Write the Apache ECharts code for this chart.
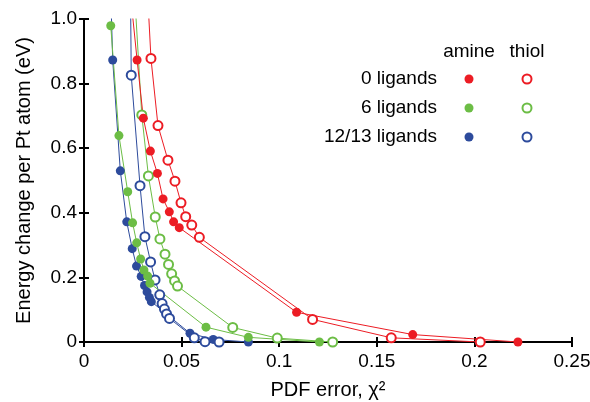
<!DOCTYPE html>
<html>
<head>
<meta charset="utf-8">
<script src="https://cdn.jsdelivr.net/npm/echarts@6/dist/echarts.min.js"></script>
<style>
html,body{margin:0;padding:0;background:#fff;}
#chart{width:590px;height:402px;}
</style>
</head>
<body>
<div id="chart"></div>
<script>
// ---- data (x = PDF error chi^2, y = energy change per Pt atom, eV) ----
var amine0X = [0.0234, 0.0272, 0.0304, 0.0340, 0.0376, 0.0405, 0.0437, 0.0459, 0.0488, 0.1089, 0.1684, 0.2223];
var amine0Y = [1.10, 0.873, 0.693, 0.591, 0.522, 0.443, 0.403, 0.372, 0.354, 0.092, 0.023, 0.0];
var thiol0X = [0.0324, 0.0343, 0.0379, 0.0430, 0.0466, 0.0497, 0.0521, 0.0552, 0.0591, 0.1171, 0.1574, 0.2030];
var thiol0Y = [1.10, 0.878, 0.670, 0.563, 0.498, 0.431, 0.388, 0.362, 0.324, 0.070, 0.013, 0.0];
var amine6X = [0.0137, 0.0179, 0.0224, 0.0249, 0.0270, 0.0290, 0.0307, 0.0326, 0.0338, 0.0625, 0.0842, 0.1206];
var amine6Y = [0.979, 0.639, 0.465, 0.369, 0.307, 0.257, 0.223, 0.204, 0.182, 0.046, 0.0145, 0.0];
var thiol6X = [0.0257, 0.0296, 0.0330, 0.0365, 0.0389, 0.0415, 0.0433, 0.0449, 0.0464, 0.0479, 0.0762, 0.0990, 0.1274];
var thiol6Y = [1.10, 0.703, 0.514, 0.387, 0.319, 0.272, 0.240, 0.211, 0.189, 0.173, 0.045, 0.012, 0.0];
var amine12X = [0.0136, 0.0147, 0.0186, 0.0219, 0.0247, 0.0269, 0.0293, 0.0310, 0.0323, 0.0335, 0.0345, 0.0543, 0.0662, 0.0842];
var amine12Y = [1.10, 0.873, 0.530, 0.372, 0.289, 0.235, 0.203, 0.175, 0.155, 0.138, 0.125, 0.027, 0.008, 0.0];
var thiol12X = [0.0238, 0.0242, 0.0287, 0.0312, 0.0341, 0.0364, 0.0388, 0.0400, 0.0412, 0.0423, 0.0438, 0.0565, 0.0620, 0.0692];
var thiol12Y = [1.10, 0.826, 0.484, 0.326, 0.248, 0.192, 0.146, 0.119, 0.102, 0.087, 0.073, 0.013, 0.001, 0.0];

var xTickLabels = ['0', '0.05', '0.1', '0.15', '0.2', '0.25'];
var yTickLabels = ['0', '0.2', '0.4', '0.6', '0.8', '1.0'];
var rowLabels = ['0 ligands', '6 ligands', '12/13 ligands'];
var colLabels = ['amine', 'thiol'];

var RED = '#ec1c24', GREEN = '#6cbd45', BLUE = '#2d4b9c';
var FONT = '"Liberation Sans", Arial, Helvetica, sans-serif';

function pairs(xs, ys) { return xs.map(function (x, i) { return [x, ys[i]]; }); }

function mkSeries(name, xs, ys, color, open) {
  return {
    name: name, type: 'line', data: pairs(xs, ys),
    symbol: 'circle', symbolSize: 9, clip: true,
    lineStyle: { color: color, width: 1 },
    itemStyle: open ? { color: '#ffffff', borderColor: color, borderWidth: 2 } : { color: color, borderWidth: 0 },
    emphasis: { disabled: true }, animation: false
  };
}

var chart = echarts.init(document.getElementById('chart'), null, { renderer: 'canvas' });

var axisLine = { show: true, lineStyle: { color: '#000', width: 2 } };
var axisTick = { show: true, inside: true, length: 5, lineStyle: { color: '#000', width: 2 } };
var labelStyle = { color: '#000', fontSize: 19, fontFamily: FONT };

// legend graphics
var legendX = [469, 527];
var legendY = [79, 108, 137];
var colors = [RED, GREEN, BLUE];
var graphics = [];
colLabels.forEach(function (t, i) {
  graphics.push({ type: 'text', x: legendX[i], y: 52, style: { text: t, fill: '#000', font: '19px ' + FONT, textAlign: 'center', textVerticalAlign: 'middle' } });
});
rowLabels.forEach(function (t, r) {
  graphics.push({ type: 'text', x: 437, y: legendY[r], style: { text: t, fill: '#000', font: '19px ' + FONT, textAlign: 'right', textVerticalAlign: 'middle' } });
  graphics.push({ type: 'circle', shape: { cx: legendX[0], cy: legendY[r], r: 4.5 }, style: { fill: colors[r] } });
  graphics.push({ type: 'circle', shape: { cx: legendX[1], cy: legendY[r], r: 4.5 }, style: { fill: '#fff', stroke: colors[r], lineWidth: 2 } });
});

chart.setOption({
  backgroundColor: '#fff',
  animation: false,
  grid: { left: 84, right: 18, top: 19, bottom: 60, containLabel: false, outerBoundsMode: 'none' },
  xAxis: [{
    type: 'value', min: 0, max: 0.25, interval: 0.05, position: 'bottom',
    name: 'PDF error, χ²', nameLocation: 'middle', nameGap: 38,
    nameTextStyle: { color: '#000', fontSize: 20, fontFamily: FONT },
    axisLine: axisLine, axisTick: axisTick, splitLine: { show: false },
    axisLabel: Object.assign({ margin: 10, formatter: function (v) { return xTickLabels[Math.round(v / 0.05)]; } }, labelStyle)
  }, {
    type: 'value', min: 0, max: 0.25, interval: 0.05, position: 'top',
    axisLine: axisLine, axisTick: axisTick, splitLine: { show: false }, axisLabel: { show: false }
  }],
  yAxis: [{
    type: 'value', min: 0, max: 1, interval: 0.2, position: 'left',
    name: 'Energy change per Pt atom (eV)', nameLocation: 'middle', nameGap: 50, nameRotate: 90,
    nameTextStyle: { color: '#000', fontSize: 20, fontFamily: FONT },
    axisLine: axisLine, axisTick: axisTick, splitLine: { show: false },
    axisLabel: Object.assign({ margin: 7, formatter: function (v) { return yTickLabels[Math.round(v / 0.2)]; } }, labelStyle)
  }, {
    type: 'value', min: 0, max: 1, interval: 0.2, position: 'right',
    axisLine: axisLine, axisTick: axisTick, splitLine: { show: false }, axisLabel: { show: false }
  }],
  series: [
    mkSeries('amine 12/13', amine12X, amine12Y, BLUE, false),
    mkSeries('thiol 12/13', thiol12X, thiol12Y, BLUE, true),
    mkSeries('amine 6', amine6X, amine6Y, GREEN, false),
    mkSeries('thiol 6', thiol6X, thiol6Y, GREEN, true),
    mkSeries('amine 0', amine0X, amine0Y, RED, false),
    mkSeries('thiol 0', thiol0X, thiol0Y, RED, true)
  ],
  graphic: graphics
});
</script>
</body>
</html>
